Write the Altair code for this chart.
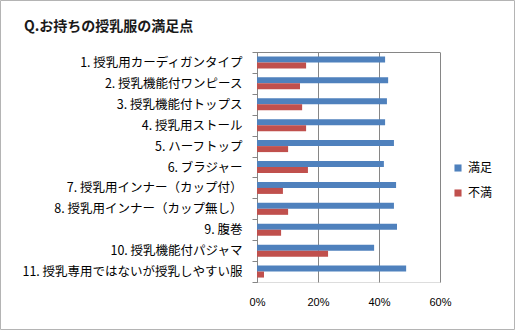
import altair as alt
import pandas as pd

categories = [
    "1. 授乳用カーディガンタイプ",
    "2. 授乳機能付ワンピース",
    "3. 授乳機能付トップス",
    "4. 授乳用ストール",
    "5. ハーフトップ",
    "6. ブラジャー",
    "7. 授乳用インナー（カップ付）",
    "8. 授乳用インナー（カップ無し）",
    "9. 腹巻",
    "10. 授乳機能付パジャマ",
    "11. 授乳専用ではないが授乳しやすい服",
]
manzoku = [0.420, 0.430, 0.426, 0.420, 0.449, 0.416, 0.456, 0.449, 0.459, 0.384, 0.489]
fuman = [0.161, 0.141, 0.148, 0.161, 0.102, 0.167, 0.085, 0.102, 0.079, 0.233, 0.023]
series = ["満足", "不満"]
colors = ["#4F81BD", "#C0504D"]
x_ticks = [0, 0.2, 0.4, 0.6]
title_text = "Q.お持ちの授乳服の満足点"

rows = []
for c, m, f in zip(categories, manzoku, fuman):
    rows.append({"item": c, "series": series[0], "value": m})
    rows.append({"item": c, "series": series[1], "value": f})
df = pd.DataFrame(rows)

W, H = 183, 230
PL, PT, PR, PB = 257, 52, 75, 48
JP = "Noto Sans CJK JP"

bars = alt.Chart(df).mark_bar().encode(
    x=alt.X("value:Q", scale=alt.Scale(domain=[0, 0.6], nice=False),
            axis=alt.Axis(values=x_ticks, format="%", title=None, ticks=False, domain=False,
                          grid=True, gridColor="#868686", gridWidth=1, labelFlush=False,
                          labelFont="Liberation Sans", labelFontSize=11, labelColor="#000000",
                          labelPadding=14)),
    y=alt.Y("item:N", sort=categories,
            scale=alt.Scale(paddingInner=0, paddingOuter=0),
            axis=alt.Axis(title=None, tickBand="extent", tickSize=5, tickColor="#868686",
                          domainColor="#868686", labelFont=JP, labelFontSize=12.5,
                          labelColor="#000000", labelPadding=10, labelLimit=300, grid=False)),
    yOffset=alt.YOffset("series:N", sort=series,
                        scale=alt.Scale(paddingInner=0, paddingOuter=0.74)),
    color=alt.Color("series:N", sort=series,
                    scale=alt.Scale(domain=series, range=colors),
                    legend=alt.Legend(title=None, orient="none", legendX=195, legendY=110,
                                      symbolType="square", symbolSize=50, symbolStrokeWidth=0,
                                      labelFont=JP, labelFontSize=12, labelColor="#000000",
                                      rowPadding=13, labelOffset=4, padding=0)),
)

one = pd.DataFrame({"k": [0]})
top_rule = alt.Chart(one).mark_rule(color="#868686", strokeWidth=1).encode(
    x=alt.value(0), x2=alt.value(W), y=alt.value(0.5)
)
border = alt.Chart(one).mark_rect(fill=None, stroke="#B4B4B4", strokeWidth=1).encode(
    x=alt.value(-PL + 0.5), x2=alt.value(W + PR - 0.5),
    y=alt.value(-PT + 0.5), y2=alt.value(H + PB - 0.5)
)
title = alt.Chart(one).mark_text(text=title_text, align="left", baseline="middle",
                                 font=JP, fontSize=14, fontWeight="bold",
                                 color="#1a1a1a").encode(
    x=alt.value(24 - PL), y=alt.value(27 - PT)
)

chart = alt.layer(bars, top_rule, border, title).properties(
    width=W, height=H,
    padding={"left": PL, "top": PT, "right": PR, "bottom": PB},
    autosize="none",
).configure_view(stroke=None).configure(background="white")

chart.save("out.html", embed_options={"renderer": "svg", "actions": False})
